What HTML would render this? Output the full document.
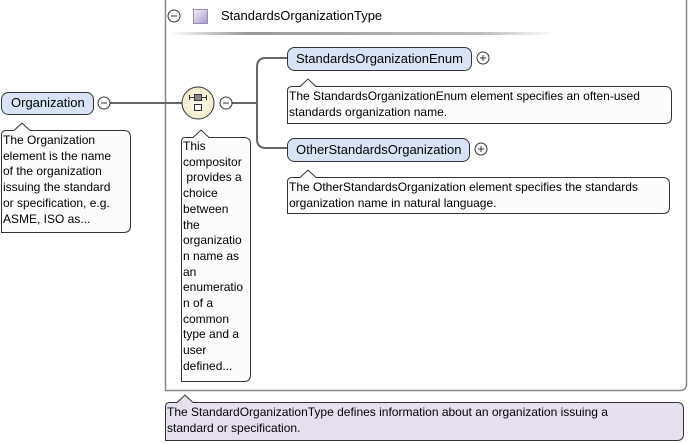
<!DOCTYPE html>
<html><head><style>
body{margin:0;width:688px;height:444px;background:#fff;position:relative;overflow:hidden;font-family:"Liberation Sans",sans-serif;font-size:12px;color:#000}
.t{position:absolute;line-height:15.7px;white-space:nowrap}
.n{font-size:13px}
</style></head><body>
<svg width="688" height="444" style="position:absolute;left:0;top:0">
<defs>
<linearGradient id="g" x1="0" x2="1"><stop offset="0" stop-color="#fff"/><stop offset="0.2" stop-color="#999"/><stop offset="0.8" stop-color="#bbb"/><stop offset="1" stop-color="#fff"/></linearGradient>
<linearGradient id="sq" x1="0" y1="0" x2="1" y2="1"><stop offset="0" stop-color="#f4f0fa"/><stop offset="1" stop-color="#a898cc"/></linearGradient>
<radialGradient id="cg"><stop offset="0" stop-color="#fffff0"/><stop offset="1" stop-color="#f2eccc"/></radialGradient>
</defs>
<path d="M165.5 0 V390.5 H680 Q686.5 390.5 686.5 384 V0" fill="none" stroke="#888" stroke-width="1.5"/>
<rect x="170" y="32" width="385" height="3" fill="url(#g)"/>
<circle cx="174" cy="16" r="6" fill="#fff" stroke="#333"/><line x1="171" y1="16" x2="177" y2="16" stroke="#333"/>
<rect x="193.5" y="9.5" width="14" height="14" fill="url(#sq)" stroke="#9a8cc0"/>
<line x1="110" y1="103" x2="182" y2="103" stroke="#666" stroke-width="2"/>
<line x1="232" y1="103" x2="257" y2="103" stroke="#666" stroke-width="2"/>
<path d="M287 58 H266 Q257 58 257 67 V139 Q257 148 266 148 H287" fill="none" stroke="#666" stroke-width="2"/>
<rect x="1.5" y="92.5" width="92" height="22" rx="7" fill="#d8e4f6" stroke="#333"/>
<circle cx="104" cy="103" r="6" fill="#fff" stroke="#333"/><line x1="101" y1="103" x2="107" y2="103" stroke="#333"/>
<path d="M6 130.5 H14 L22 123 L30 130.5 H124 Q130.5 130.5 130.5 137 V226 Q130.5 232.5 124 232.5 H1.5 V135 Q1.5 130.5 6 130.5Z" fill="#fcfcfc" stroke="#333"/>
<circle cx="198" cy="103" r="16" fill="url(#cg)" stroke="#333"/>
<rect x="194.5" y="94.5" width="7" height="6" fill="#888" stroke="#333"/>
<rect x="194.5" y="104.5" width="7" height="6" fill="#fff" stroke="#333"/>
<line x1="189" y1="97.5" x2="194" y2="97.5" stroke="#333"/><line x1="202" y1="97.5" x2="207" y2="97.5" stroke="#333"/>
<line x1="189.5" y1="95" x2="189.5" y2="100" stroke="#333"/><line x1="206.5" y1="95" x2="206.5" y2="100" stroke="#333"/>
<circle cx="226" cy="103" r="6" fill="#fff" stroke="#333"/><line x1="223" y1="103" x2="229" y2="103" stroke="#333"/>
<path d="M185 137.5 H193 L201 130 L209 137.5 H244 Q250.5 137.5 250.5 144 V375 Q250.5 381.5 244 381.5 H181.5 V142 Q181.5 137.5 185 137.5Z" fill="#fcfcfc" stroke="#333"/>
<rect x="287.5" y="47.5" width="184" height="23" rx="7" fill="#d8e4f6" stroke="#333"/>
<circle cx="483" cy="58" r="6" fill="#fff" stroke="#333"/><line x1="480" y1="58" x2="486" y2="58" stroke="#333"/><line x1="483" y1="55" x2="483" y2="61" stroke="#333"/>
<path d="M292 86.5 H300 L308 79 L316 86.5 H665 Q671.5 86.5 671.5 93 V117 Q671.5 123.5 665 123.5 H287.5 V91 Q287.5 86.5 292 86.5Z" fill="#fcfcfc" stroke="#333"/>
<rect x="287.5" y="138.5" width="182" height="23" rx="7" fill="#d8e4f6" stroke="#333"/>
<circle cx="481" cy="149" r="6" fill="#fff" stroke="#333"/><line x1="478" y1="149" x2="484" y2="149" stroke="#333"/><line x1="481" y1="146" x2="481" y2="152" stroke="#333"/>
<path d="M292 177.5 H300 L308 170 L316 177.5 H663 Q669.5 177.5 669.5 184 V207 Q669.5 213.5 663 213.5 H287.5 V182 Q287.5 177.5 292 177.5Z" fill="#fcfcfc" stroke="#333"/>
<path d="M169 402.5 H177 L185 395 L193 402.5 H677 Q683.5 402.5 683.5 409 V434 Q683.5 440.5 677 440.5 H165.5 V407 Q165.5 402.5 169 402.5Z" fill="#e6e0ee" stroke="#333"/>
</svg>
<div class="t n" style="left:221px;top:8px">StandardsOrganizationType</div>
<div class="t n" style="left:11px;top:95px">Organization</div>
<div class="t" style="left:3px;top:133px">The Organization<br>element is the name<br>of the organization<br>issuing the standard<br>or specification, e.g.<br>ASME, ISO as...</div>
<div class="t" style="left:183px;top:139px">This<br>compositor<br>&nbsp;provides a<br>choice<br>between<br>the<br>organizatio<br>n name as<br>an<br>enumeratio<br>n of a<br>common<br>type and a<br>user<br>defined...</div>
<div class="t n" style="left:296px;top:51px">StandardsOrganizationEnum</div>
<div class="t" style="left:289px;top:89px">The StandardsOrganizationEnum element specifies an often-used<br>standards organization name.</div>
<div class="t n" style="left:296px;top:142px">OtherStandardsOrganization</div>
<div class="t" style="left:289px;top:180px">The OtherStandardsOrganization element specifies the standards<br>organization name in natural language.</div>
<div class="t" style="left:167px;top:405px">The StandardOrganizationType defines information about an organization issuing a<br>standard or specification.</div>
</body></html>
